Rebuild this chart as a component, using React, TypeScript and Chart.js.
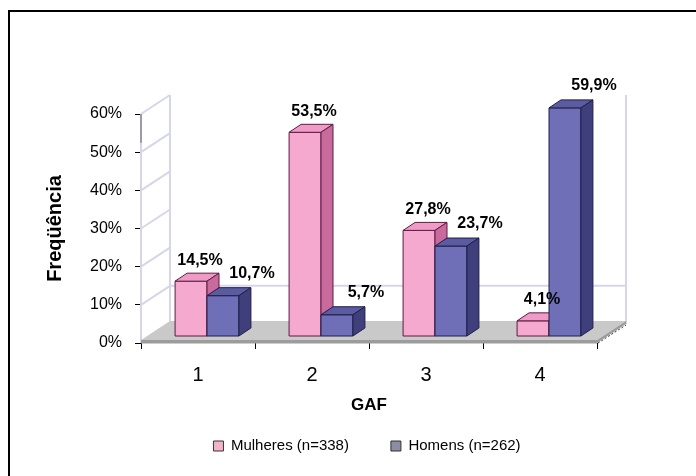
import React, { useEffect, useRef } from 'react';
import { Chart, registerables } from 'chart.js';

Chart.register(...registerables);

// ---------- data ----------
const categories = ['1', '2', '3', '4'];
const mulheres = [14.5, 53.5, 27.8, 4.1];
const homens = [10.7, 5.7, 23.7, 59.9];
const seriesNames = ['Mulheres (n=338)', 'Homens (n=262)'];
const yMin = 0;
const yMax = 60;
const yStep = 10;
const yAxisTitle = 'Freqüência';
const xAxisTitle = 'GAF';

// ---------- styles ----------
const FONT = '"Liberation Sans", Arial, Helvetica, sans-serif';
const FACE = [
  { front: '#F5A9CF', top: '#EE9CC6', side: '#C96A9D', edge: '#5E1B43', legend: '#F3B4C8' },
  { front: '#6F6FB7', top: '#5B5BA2', side: '#3F3F7C', edge: '#1F1F4A', legend: '#8C8CA3' },
];
const LABEL_SHIFT = [
  { dx: 9, dy: -21 },
  { dx: 29, dy: -22 },
];
const BAR_SHIFT = { x: 9, y: -6.5 };
const BAR_DEPTH = { x: 12, y: -8 };
const FLOOR_DEPTH = { x: 29, y: -19 };

const fmt = (v: number) => v.toFixed(1).replace('.', ',') + '%';

function poly(ctx: CanvasRenderingContext2D, pts: number[][], fill: string, stroke: string) {
  ctx.beginPath();
  ctx.moveTo(pts[0][0], pts[0][1]);
  for (let i = 1; i < pts.length; i++) ctx.lineTo(pts[i][0], pts[i][1]);
  ctx.closePath();
  ctx.fillStyle = fill;
  ctx.fill();
  ctx.strokeStyle = stroke;
  ctx.lineWidth = 1;
  ctx.stroke();
}

const scene3d = {
  id: 'scene3d',
  beforeDraw(chart: any) {
    const ctx = chart.ctx as CanvasRenderingContext2D;
    ctx.save();
    ctx.fillStyle = '#fff';
    ctx.fillRect(0, 0, chart.width, chart.height);
    ctx.fillStyle = '#000';
    ctx.fillRect(8, 10, 2, chart.height - 10);
    ctx.fillRect(8, 10, chart.width - 8, 2);
    ctx.restore();
  },
  beforeDatasetsDraw(chart: any) {
    const ctx = chart.ctx as CanvasRenderingContext2D;
    const ca = chart.chartArea;
    const ys = chart.scales.y;
    const y0 = ys.getPixelForValue(0);
    const fdx = FLOOR_DEPTH.x;
    const fdy = FLOOR_DEPTH.y;
    ctx.save();

    // walls
    ctx.strokeStyle = '#D6D6EA';
    ctx.lineWidth = 2;
    ctx.beginPath();
    ctx.moveTo(ca.left + fdx, ca.top + fdy);
    ctx.lineTo(ca.left + fdx, y0 + fdy);
    ctx.moveTo(ca.right + fdx, ca.top + fdy);
    ctx.lineTo(ca.right + fdx, y0 + fdy);
    ys.ticks.forEach((t: any) => {
      if (t.value === 0) return;
      const py = ys.getPixelForValue(t.value);
      ctx.moveTo(ca.left, py);
      ctx.lineTo(ca.left + fdx, py + fdy);
    });
    const p10 = ys.getPixelForValue(yStep) + fdy;
    ctx.moveTo(ca.left + fdx, p10);
    ctx.lineTo(ca.right + fdx, p10);
    ctx.moveTo(ca.left, ca.top);
    ctx.lineTo(ca.left, y0);
    ctx.stroke();
    ctx.strokeStyle = '#9A9AAA';
    ctx.beginPath();
    ctx.moveTo(ca.left, ca.top);
    ctx.lineTo(ca.left, ys.getPixelForValue(52.5));
    ctx.stroke();

    // floor
    const th = 3;
    ctx.fillStyle = '#C9C9C9';
    ctx.beginPath();
    ctx.moveTo(ca.left, y0 - th);
    ctx.lineTo(ca.right, y0 - th);
    ctx.lineTo(ca.right + fdx, y0 - th + fdy);
    ctx.lineTo(ca.left + fdx, y0 - th + fdy);
    ctx.closePath();
    ctx.fill();
    ctx.fillStyle = '#9C9C9C';
    ctx.fillRect(ca.left, y0 - th, ca.right - ca.left, th + 0.5);
    ctx.beginPath();
    ctx.moveTo(ca.right, y0 - th);
    ctx.lineTo(ca.right + fdx, y0 - th + fdy);
    ctx.lineTo(ca.right + fdx, y0 + fdy);
    ctx.lineTo(ca.right, y0);
    ctx.closePath();
    ctx.fill();
    ctx.setLineDash([2, 2]);
    ctx.strokeStyle = '#333';
    ctx.lineWidth = 1;
    ctx.beginPath();
    ctx.moveTo(ca.right + 1, y0);
    ctx.lineTo(ca.right + fdx, y0 + fdy + 1);
    ctx.stroke();
    ctx.setLineDash([]);

    // 3D bars
    chart.data.datasets.forEach((_ds: any, di: number) => {
      const meta = chart.getDatasetMeta(di);
      const st = FACE[di];
      meta.data.forEach((el: any) => {
        const { x, y, base, width } = el.getProps(['x', 'y', 'base', 'width'], true);
        const l = x - width / 2 + BAR_SHIFT.x;
        const r = x + width / 2 + BAR_SHIFT.x;
        const t = y + BAR_SHIFT.y;
        const b = base + BAR_SHIFT.y;
        const dx = BAR_DEPTH.x;
        const dy = BAR_DEPTH.y;
        poly(ctx, [[l, t], [r, t], [r, b], [l, b]], st.front, st.edge);
        poly(ctx, [[l, t], [r, t], [r + dx, t + dy], [l + dx, t + dy]], st.top, st.edge);
        poly(ctx, [[r, t], [r + dx, t + dy], [r + dx, b + dy], [r, b]], st.side, st.edge);
      });
    });

    // value labels
    ctx.fillStyle = '#000';
    ctx.font = 'bold 16px ' + FONT;
    ctx.textAlign = 'center';
    ctx.textBaseline = 'middle';
    chart.data.datasets.forEach((ds: any, di: number) => {
      const meta = chart.getDatasetMeta(di);
      meta.data.forEach((el: any, i: number) => {
        const { x, y } = el.getProps(['x', 'y'], true);
        ctx.fillText(fmt(ds.data[i]), x + BAR_SHIFT.x + LABEL_SHIFT[di].dx, y + BAR_SHIFT.y + LABEL_SHIFT[di].dy);
      });
    });

    ctx.restore();
    return false;
  },
};

export default function App() {
  const ref = useRef<HTMLCanvasElement>(null);

  useEffect(() => {
    if (!ref.current) return;
    Chart.defaults.font.family = FONT;
    Chart.defaults.color = '#000';
    const chart = new Chart(ref.current, {
      type: 'bar',
      data: {
        labels: categories,
        datasets: [
          {
            label: seriesNames[0],
            data: mulheres,
            backgroundColor: FACE[0].legend,
            borderColor: '#333',
            borderWidth: 1,
            barPercentage: 1,
            categoryPercentage: 0.56,
          },
          {
            label: seriesNames[1],
            data: homens,
            backgroundColor: FACE[1].legend,
            borderColor: '#333',
            borderWidth: 1,
            barPercentage: 1,
            categoryPercentage: 0.56,
          },
        ],
      },
      plugins: [scene3d],
      options: {
        responsive: false,
        animation: false,
        devicePixelRatio: 1,
        layout: { padding: { top: 114, left: 38, right: 0, bottom: 12.5 } },
        plugins: {
          tooltip: { enabled: false },
          legend: {
            position: 'bottom',
            labels: {
              boxWidth: 10,
              boxHeight: 10,
              padding: 42,
              font: { size: 15, family: FONT },
              color: '#000',
            },
          },
        },
        scales: {
          x: {
            type: 'category',
            offset: true,
            grid: {
              offset: true,
              drawOnChartArea: false,
              drawTicks: true,
              tickLength: 6,
              color: '#000',
              lineWidth: 1,
            },
            border: { display: false },
            ticks: { font: { size: 20, family: FONT }, color: '#000', padding: 14 },
            title: {
              display: true,
              text: xAxisTitle,
              font: { size: 17, weight: 'bold', family: FONT },
              color: '#000',
              padding: { top: 0, bottom: -18.7 },
            },
            afterFit: (s: any) => {
              s.height = 53.5;
            },
          },
          y: {
            min: yMin,
            max: yMax,
            ticks: {
              stepSize: yStep,
              font: { size: 16, family: FONT },
              color: '#000',
              padding: 13,
              callback: (v: any) => v + '%',
            },
            grid: {
              drawOnChartArea: false,
              drawTicks: true,
              tickLength: 6,
              color: '#000',
              lineWidth: 1,
            },
            border: { display: false },
            title: {
              display: true,
              text: yAxisTitle,
              font: { size: 20, weight: 'bold', family: FONT },
              color: '#000',
              padding: { top: 5, bottom: 0 },
            },
            afterFit: (s: any) => {
              s.width = 103;
            },
          },
          yRight: {
            position: 'right',
            display: true,
            grid: { display: false },
            ticks: { display: false },
            border: { display: false },
            afterFit: (s: any) => {
              s.width = 99;
            },
          },
        },
      } as any,
    });
    return () => chart.destroy();
  }, []);

  return (
    <div style={{ position: 'absolute', left: 0, top: 0, width: 696, height: 476 }}>
      <canvas ref={ref} width={696} height={476} style={{ display: 'block' }} />
    </div>
  );
}
